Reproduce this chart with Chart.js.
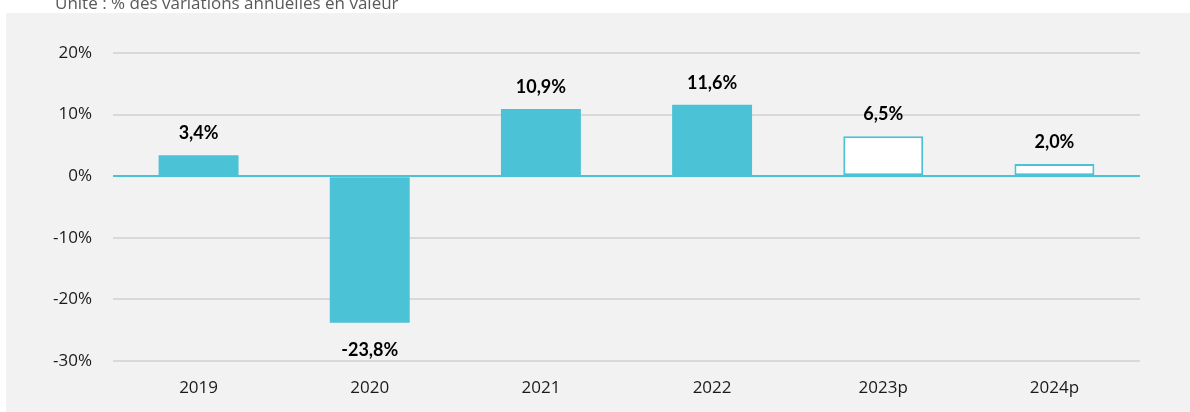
<!DOCTYPE html>
<html>
<head>
<meta charset="utf-8">
<script src="https://cdn.jsdelivr.net/npm/chart.js@4.4.0/dist/chart.umd.min.js"></script>
<style>
  html, body { margin: 0; padding: 0; background: #ffffff; }
  #wrap { position: relative; width: 1190px; height: 412px; overflow: hidden; }
  #title {
    position: absolute; left: 55px; top: -9px;
    font-family: "Open Sans", sans-serif; font-size: 17px; color: #595959;
    white-space: nowrap;
  }
  canvas { position: absolute; left: 0; top: 0; }
</style>
</head>
<body>
<div id="wrap">
  <canvas id="chart" width="1190" height="412"></canvas>
  <div id="title">Unité : % des variations annuelles en valeur</div>
</div>
<script>
// data
var years = ['2019', '2020', '2021', '2022', '2023p', '2024p'];
var growth = [3.4, -23.8, 10.9, 11.6, 6.5, 2.0];
var forecast = [false, false, false, false, true, true];
var yTicks = [-30, -20, -10, 0, 10, 20];

var teal = '#4bc2d5';
var font = '"Open Sans", sans-serif';

// grey panel behind the chart
var panelPlugin = {
    id: 'panel',
    beforeDraw: function (chart) {
        var ctx = chart.ctx;
        ctx.save();
        ctx.fillStyle = '#f2f2f2';
        ctx.fillRect(6, 13, chart.width - 6, chart.height - 13);
        ctx.restore();
    }
};

// value labels above / below the bars
var labelPlugin = {
    id: 'valueLabels',
    afterDatasetsDraw: function (chart) {
        var ctx = chart.ctx;
        var meta = chart.getDatasetMeta(0);
        ctx.save();
        ctx.font = 'bold 18px Lato, sans-serif';
        ctx.fillStyle = '#000000';
        ctx.textAlign = 'center';
        ctx.textBaseline = 'middle';
        meta.data.forEach(function (bar, i) {
            var v = growth[i];
            var txt = v.toFixed(1).replace('.', ',') + '%';
            var y = v >= 0 ? bar.y - 22 : bar.y + 27;
            ctx.fillText(txt, bar.x, y);
        });
        ctx.restore();
    }
};

function drawChart() {
    var ctx = document.getElementById('chart').getContext('2d');
    new Chart(ctx, {
        type: 'bar',
        data: {
            labels: years,
            datasets: [{
                data: growth,
                backgroundColor: forecast.map(function (f) { return f ? '#ffffff' : teal; }),
                borderColor: teal,
                borderWidth: forecast.map(function (f) { return f ? 2 : 0; }),
                borderSkipped: false,
                barPercentage: 0.467,
                categoryPercentage: 1.0
            }]
        },
        options: {
            responsive: false,
            animation: false,
            layout: { padding: { top: 53, left: 0, right: 50, bottom: 0 } },
            plugins: {
                legend: { display: false },
                tooltip: { enabled: false }
            },
            scales: {
                x: {
                    grid: { display: false, drawTicks: false },
                    border: { display: false },
                    ticks: { color: '#1a1a1a', font: { family: font, size: 17 }, padding: 17 },
                    afterFit: function (scale) { scale.height = 51; }
                },
                y: {
                    min: -30,
                    max: 20,
                    afterBuildTicks: function (scale) {
                        scale.ticks = yTicks.map(function (v) { return { value: v }; });
                    },
                    grid: {
                        drawTicks: false,
                        color: function (c) { return c.tick && c.tick.value === 0 ? teal : '#d9d9d9'; },
                        lineWidth: 2
                    },
                    border: { display: false },
                    ticks: {
                        color: '#1a1a1a',
                        font: { family: font, size: 17 },
                        padding: 21,
                        callback: function (v) { return v + '%'; }
                    },
                    afterFit: function (scale) { scale.width = 113; }
                }
            }
        },
        plugins: [panelPlugin, labelPlugin]
    });
}

// make sure the faces are ready before the canvas paints
Promise.all([
    document.fonts.load('bold 18px Lato'),
    document.fonts.load('17px "Open Sans"')
]).then(drawChart, drawChart);
</script>
</body>
</html>
